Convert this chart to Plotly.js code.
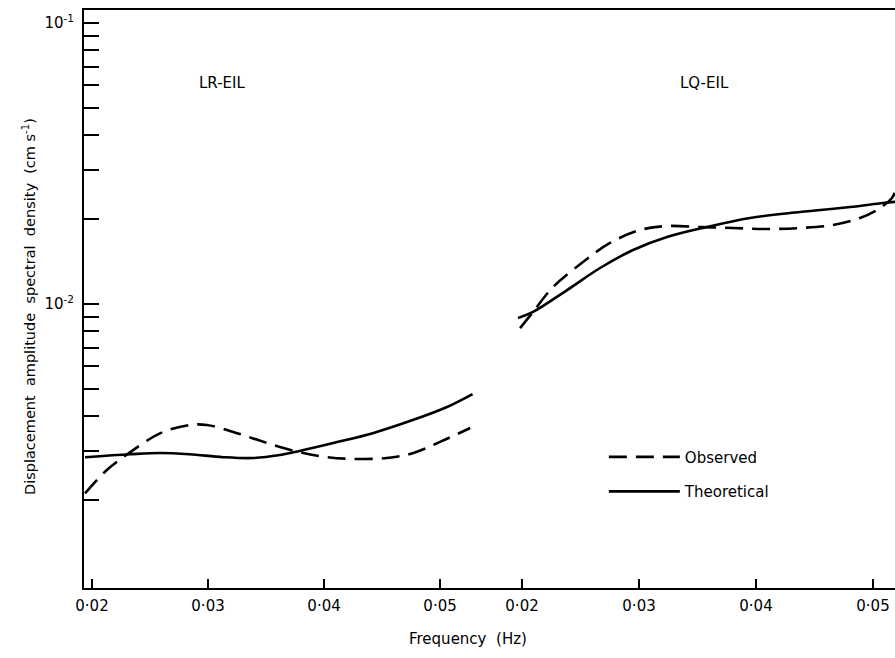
<!DOCTYPE html>
<html>
<head>
<meta charset="utf-8">
<script src="https://cdn.plot.ly/plotly-3.0.1.min.js"></script>
<style>html,body{margin:0;padding:0;background:#fff;}#chart{width:895px;height:658px;}</style>
</head>
<body>
<div id="chart"></div>
<script>
// Left panel (LR-EIL)
const lrFreqTheo = [0.0194, 0.0233, 0.0259, 0.0284, 0.0313, 0.0339, 0.0362, 0.0379, 0.0408, 0.0442, 0.0477, 0.0506, 0.0528];
const lrTheo     = [0.00285, 0.00292, 0.00295, 0.00292, 0.00285, 0.00283, 0.00290, 0.00300, 0.00320, 0.00347, 0.00387, 0.00430, 0.00478];
const lrFreqObs  = [0.0194, 0.0213, 0.0233, 0.0259, 0.0284, 0.0299, 0.0325, 0.0351, 0.0379, 0.0403, 0.0425, 0.0454, 0.0477, 0.0500, 0.0526];
const lrObs      = [0.00212, 0.00257, 0.00297, 0.00347, 0.00371, 0.00371, 0.00347, 0.00320, 0.00297, 0.00285, 0.00281, 0.00283, 0.00295, 0.00323, 0.00362];
// Right panel (LQ-EIL)
const lqFreqTheo = [0.01966, 0.02094, 0.02385, 0.02667, 0.02949, 0.03239, 0.03581, 0.03949, 0.04376, 0.04803, 0.05085, 0.05188];
const lqTheo     = [0.00892, 0.00937, 0.01121, 0.01343, 0.01556, 0.01731, 0.01879, 0.02023, 0.02125, 0.02214, 0.02288, 0.0231];
const lqFreqObs  = [0.01983, 0.02094, 0.02265, 0.02521, 0.02752, 0.03009, 0.03239, 0.03521, 0.03803, 0.04094, 0.04376, 0.04658, 0.04889, 0.0506, 0.05162, 0.05188];
const lqObs      = [0.00821, 0.00937, 0.01149, 0.01411, 0.01649, 0.01834, 0.01895, 0.01879, 0.01864, 0.01849, 0.01864, 0.0191, 0.02023, 0.02196, 0.02384, 0.025];

const xTickVals = [0.02, 0.03, 0.04, 0.05];
const xTickText = ["0·02", "0·03", "0·04", "0·05"];
const yTickVals = [0.01, 0.1];
const yTickText = ["10<sup>-2</sup>", "10<sup>-1</sup>"];
const yMinorVals = [0.002,0.003,0.004,0.005,0.006,0.007,0.008,0.009,0.02,0.03,0.04,0.05,0.06,0.07,0.08,0.09];

const FONT = "DejaVu Sans";
const obsLine = {color:"#000", width:2.6, dash:"18px,9px", shape:"spline"};
const theoLine = {color:"#000", width:2.6, shape:"spline"};

const traces = [
  {x: lrFreqObs, y: lrObs, xaxis:"x", yaxis:"y", mode:"lines", name:"Observed", line: obsLine, legendgroup:"a", showlegend:true},
  {x: lrFreqTheo, y: lrTheo, xaxis:"x", yaxis:"y", mode:"lines", name:"Theoretical", line: theoLine, legendgroup:"b", showlegend:true},
  {x: lqFreqObs, y: lqObs, xaxis:"x2", yaxis:"y", mode:"lines", name:"Observed", line: obsLine, legendgroup:"a", showlegend:false},
  {x: lqFreqTheo, y: lqTheo, xaxis:"x2", yaxis:"y", mode:"lines", name:"Theoretical", line: theoLine, legendgroup:"b", showlegend:false}
];

const xCommon = {
  tickvals: xTickVals, ticktext: xTickText, ticks:"inside", ticklen:9, tickwidth:2, tickcolor:"#000",
  showline:true, linecolor:"#000", linewidth:2, mirror:true, showgrid:false, zeroline:false,
  tickfont:{family:FONT, size:15, color:"#000"}, anchor:"y", fixedrange:true, ticklabelstandoff:3
};

const layout = {
  width:895, height:658,
  margin:{l:84, r:0, t:10, b:70},
  paper_bgcolor:"#fff", plot_bgcolor:"#fff",
  font:{family:FONT, color:"#000"},
  showlegend:true,
  legend:{x:0.641, y:0.255, xanchor:"left", yanchor:"top", bgcolor:"rgba(0,0,0,0)",
          font:{family:FONT, size:15, color:"#000"}, tracegroupgap:12, itemwidth:71},
  xaxis: Object.assign({}, xCommon, {domain:[0, 0.513], range:[0.01931, 0.05517]}),
  xaxis2: Object.assign({}, xCommon, {domain:[0.513, 1], range:[0.01812, 0.05188]}),
  yaxis: {
    type:"log", range:[-3.0107, -0.9537], anchor:"x",
    tickvals: yTickVals, ticktext: yTickText, ticks:"inside", ticklen:15, tickwidth:2, tickcolor:"#000",
    minor:{tickvals: yMinorVals, ticks:"inside", ticklen:15, tickwidth:2, tickcolor:"#000", showgrid:false},
    showline:true, linecolor:"#000", linewidth:2, showgrid:false, zeroline:false,
    tickfont:{family:FONT, size:15, color:"#000"}, ticklabelstandoff:5, fixedrange:true
  },
  annotations:[
    {text:"LR-EIL", xref:"paper", yref:"paper", x:(197-84)/811, y:(588-72)/578, showarrow:false, font:{family:FONT, size:15}},
    {text:"LQ-EIL", xref:"paper", yref:"paper", x:(731-84)/811, y:(588-72)/578, showarrow:false, font:{family:FONT, size:15}},
    {text:"Frequency  (Hz)", xref:"paper", yref:"paper", x:(468-84)/811, y:(588-650)/578, showarrow:false, font:{family:FONT, size:15}},
    {text:"Displacement  amplitude  spectral  density  (cm s<sup>-1</sup>)", xref:"paper", yref:"paper",
     x:(18-84)/811, y:(588-307)/578, showarrow:false, textangle:-90, font:{family:FONT, size:14.5}}
  ]
};

Plotly.newPlot("chart", traces, layout, {displayModeBar:false, staticPlot:true});
</script>
</body>
</html>
